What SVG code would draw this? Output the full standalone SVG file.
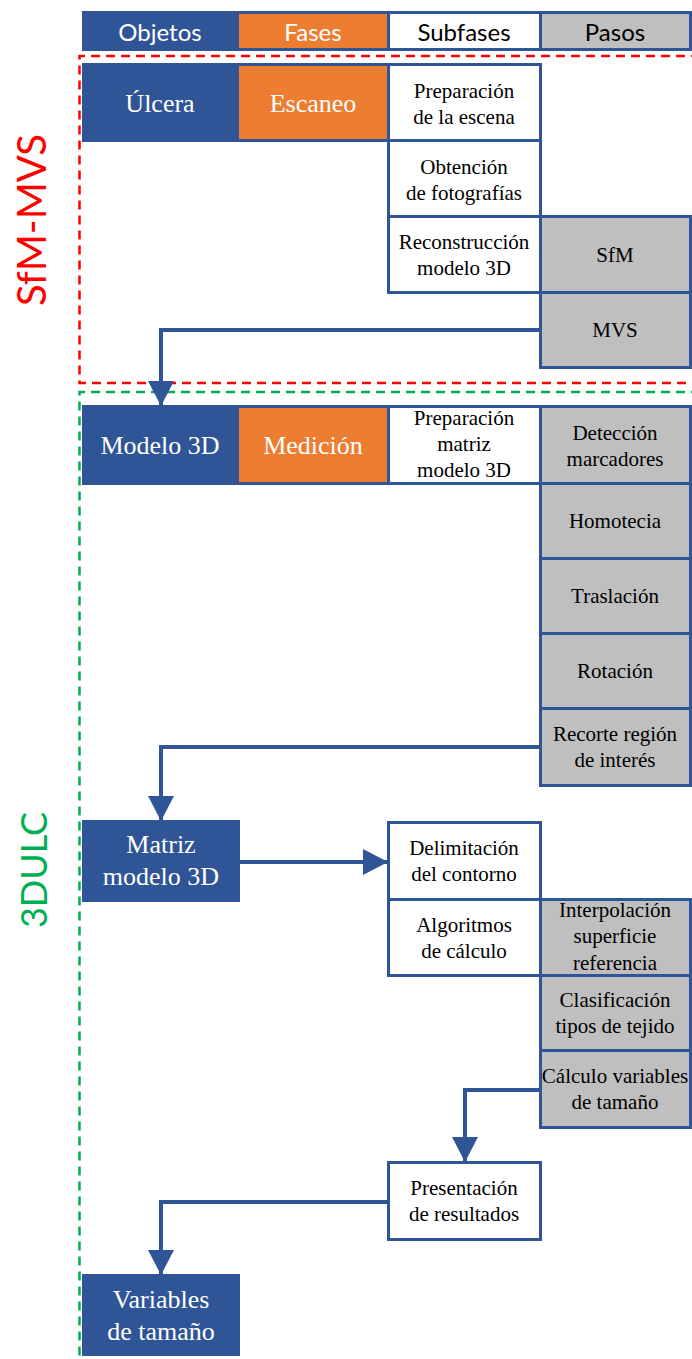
<svg xmlns="http://www.w3.org/2000/svg" width="692" height="1359" viewBox="0 0 692 1359">
<style>
.c{stroke:#2F5597;stroke-width:3}
.b{fill:#2F5597}
.o{fill:#ED7D31}
.w{fill:#FFFFFF}
.g{fill:#BFBFBF}
.hd{font-family:Lato,"Liberation Sans",sans-serif;font-size:24px;text-anchor:middle}
.lt{font-family:"Liberation Serif","Times New Roman",serif;font-size:26px;fill:#FFFFFF;text-anchor:middle}
.sm{font-family:"Liberation Serif","Times New Roman",serif;font-size:21px;fill:#000000;text-anchor:middle}
.side{font-family:Lato,"Liberation Sans",sans-serif;text-anchor:middle}
.conn{fill:none;stroke:#2F5597;stroke-width:4}
</style>
<defs>
<marker id="ah" viewBox="0 0 25 26" refX="24" refY="13" markerWidth="25" markerHeight="26" markerUnits="userSpaceOnUse" orient="auto">
<path d="M0,0 L25,13 L0,26 Z" fill="#2F5597"/>
</marker>
</defs>
<rect width="692" height="1359" fill="#FFFFFF"/>

<g id="regions">
<path d="M700,56 H79.5 V383 H700" fill="none" stroke="#FF0000" stroke-width="2.5" stroke-dasharray="9,6"/>
<path d="M700,392 H79.5 V1365" fill="none" stroke="#00B050" stroke-width="2.5" stroke-dasharray="9,6"/>
<text class="side" transform="translate(46,220) rotate(-90)" font-size="40" fill="#FF0000">SfM-MVS</text>
<text class="side" transform="translate(47,870) rotate(-90)" font-size="36" fill="#00B050">3DULC</text>
</g>

<g id="header">
<rect class="c b" x="83.5" y="12.5" width="154" height="37"/>
<rect class="c o" x="237.5" y="12.5" width="151" height="37"/>
<rect class="c w" x="388.5" y="12.5" width="152" height="37"/>
<rect class="c g" x="540.5" y="12.5" width="150" height="37"/>
<text class="hd" x="160" y="41" fill="#FFFFFF">Objetos</text>
<text class="hd" x="313" y="41" fill="#FFFFFF">Fases</text>
<text class="hd" x="464" y="41" fill="#000000">Subfases</text>
<text class="hd" x="615" y="41" fill="#000000">Pasos</text>
</g>

<g id="ulcera"><rect class="c b" x="83.5" y="64.5" width="154" height="76"/><text class="lt" x="160" y="112">Úlcera</text></g>
<g id="escaneo"><rect class="c o" x="237.5" y="64.5" width="151" height="76"/><text class="lt" x="313" y="112">Escaneo</text></g>
<g id="prep-escena"><rect class="c w" x="388.5" y="64.5" width="152" height="76"/><text class="sm" x="464" y="98">Preparación</text><text class="sm" x="464" y="124">de la escena</text></g>
<g id="obtencion"><rect class="c w" x="388.5" y="140.5" width="152" height="76"/><text class="sm" x="464" y="174">Obtención</text><text class="sm" x="464" y="200">de fotografías</text></g>
<g id="reconstruccion"><rect class="c w" x="388.5" y="216.5" width="152" height="76"/><text class="sm" x="464" y="249">Reconstrucción</text><text class="sm" x="464" y="275">modelo 3D</text></g>
<g id="sfm"><rect class="c g" x="540.5" y="216.5" width="150" height="76"/><text class="sm" x="615" y="262">SfM</text></g>
<g id="mvs"><rect class="c g" x="540.5" y="292.5" width="150" height="75"/><text class="sm" x="615" y="337">MVS</text></g>

<g id="modelo3d"><rect class="c b" x="83.5" y="406.5" width="154" height="77"/><text class="lt" x="160" y="454">Modelo 3D</text></g>
<g id="medicion"><rect class="c o" x="237.5" y="406.5" width="151" height="77"/><text class="lt" x="313" y="454">Medición</text></g>
<g id="prep-matriz"><rect class="c w" x="388.5" y="406.5" width="152" height="77"/><text class="sm" x="464" y="425">Preparación</text><text class="sm" x="464" y="451">matriz</text><text class="sm" x="464" y="477">modelo 3D</text></g>
<g id="deteccion"><rect class="c g" x="540.5" y="406.5" width="150" height="77"/><text class="sm" x="615" y="440">Detección</text><text class="sm" x="615" y="466">marcadores</text></g>
<g id="homotecia"><rect class="c g" x="540.5" y="483.5" width="150" height="75"/><text class="sm" x="615" y="528">Homotecia</text></g>
<g id="traslacion"><rect class="c g" x="540.5" y="558.5" width="150" height="75"/><text class="sm" x="615" y="603">Traslación</text></g>
<g id="rotacion"><rect class="c g" x="540.5" y="633.5" width="150" height="75"/><text class="sm" x="615" y="678">Rotación</text></g>
<g id="recorte"><rect class="c g" x="540.5" y="708.5" width="150" height="77"/><text class="sm" x="615" y="741">Recorte región</text><text class="sm" x="615" y="767">de interés</text></g>

<g id="matriz"><rect class="c b" x="83.5" y="821.5" width="155" height="79"/><text class="lt" x="161" y="853">Matriz</text><text class="lt" x="161" y="885">modelo 3D</text></g>
<g id="delimitacion"><rect class="c w" x="388.5" y="822.5" width="152" height="77"/><text class="sm" x="464" y="855">Delimitación</text><text class="sm" x="464" y="881">del contorno</text></g>
<g id="algoritmos"><rect class="c w" x="388.5" y="899.5" width="152" height="76"/><text class="sm" x="464" y="932">Algoritmos</text><text class="sm" x="464" y="958">de cálculo</text></g>
<g id="interpolacion"><rect class="c g" x="540.5" y="899.5" width="150" height="76"/><text class="sm" x="615" y="917">Interpolación</text><text class="sm" x="615" y="943">superficie</text><text class="sm" x="615" y="970">referencia</text></g>
<g id="clasificacion"><rect class="c g" x="540.5" y="975.5" width="150" height="75"/><text class="sm" x="615" y="1007">Clasificación</text><text class="sm" x="615" y="1033">tipos de tejido</text></g>
<g id="calculo"><rect class="c g" x="540.5" y="1050.5" width="150" height="77"/><text class="sm" x="615" y="1083">Cálculo variables</text><text class="sm" x="615" y="1109">de tamaño</text></g>
<g id="presentacion"><rect class="c w" x="388.5" y="1162.5" width="152" height="77"/><text class="sm" x="464" y="1195">Presentación</text><text class="sm" x="464" y="1221">de resultados</text></g>
<g id="variables"><rect class="c b" x="83.5" y="1275.5" width="155" height="79"/><text class="lt" x="161" y="1308">Variables</text><text class="lt" x="161" y="1340">de tamaño</text></g>

<g id="connectors">
<path class="conn" d="M540,330 H161 V405" marker-end="url(#ah)"/>
<path class="conn" d="M540,747 H161 V820" marker-end="url(#ah)"/>
<path class="conn" d="M238,862 H387" marker-end="url(#ah)"/>
<path class="conn" d="M540,1090 H465 V1161" marker-end="url(#ah)"/>
<path class="conn" d="M388,1202 H161 V1274" marker-end="url(#ah)"/>
</g>
</svg>
